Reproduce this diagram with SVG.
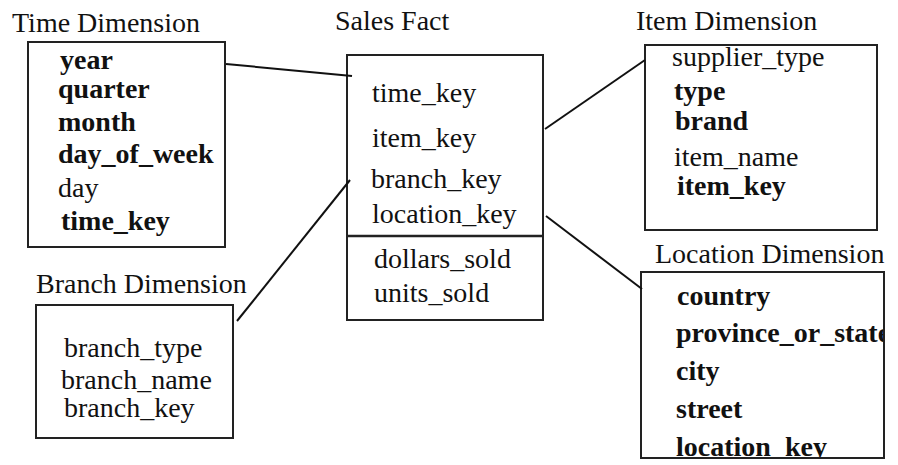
<svg xmlns="http://www.w3.org/2000/svg" width="898" height="465" viewBox="0 0 898 465">
<defs>
<clipPath id="locclip"><rect x="641" y="272" width="243" height="186"/></clipPath>
</defs>
<rect width="898" height="465" fill="#fff"/>
<g id="time">
<text font-family="Liberation Serif" font-size="28" fill="#111" x="12" y="32">Time Dimension</text>
<rect fill="none" stroke="#222" stroke-width="2" x="28" y="42" width="197" height="205"/>
<text font-family="Liberation Serif" font-size="28" fill="#111" font-weight="bold" x="60" y="69">year</text>
<text font-family="Liberation Serif" font-size="28" fill="#111" font-weight="bold" x="58" y="98">quarter</text>
<text font-family="Liberation Serif" font-size="28" fill="#111" font-weight="bold" x="58" y="131">month</text>
<text font-family="Liberation Serif" font-size="28" fill="#111" font-weight="bold" x="58" y="163">day_of_week</text>
<text font-family="Liberation Serif" font-size="28" fill="#111" x="58" y="197">day</text>
<text font-family="Liberation Serif" font-size="28" fill="#111" font-weight="bold" x="61" y="230">time_key</text>
</g>
<g id="sales">
<text font-family="Liberation Serif" font-size="28" fill="#111" x="335" y="30">Sales Fact</text>
<rect fill="none" stroke="#222" stroke-width="2" x="347" y="55" width="196" height="265"/>
<line x1="347" y1="236" x2="543" y2="236" stroke="#222" stroke-width="2.5"/>
<text font-family="Liberation Serif" font-size="28" fill="#111" x="372" y="102">time_key</text>
<text font-family="Liberation Serif" font-size="28" fill="#111" x="372" y="147">item_key</text>
<text font-family="Liberation Serif" font-size="28" fill="#111" x="371" y="188">branch_key</text>
<text font-family="Liberation Serif" font-size="28" fill="#111" x="372" y="223">location_key</text>
<text font-family="Liberation Serif" font-size="28" fill="#111" x="374" y="268">dollars_sold</text>
<text font-family="Liberation Serif" font-size="28" fill="#111" x="374" y="302">units_sold</text>
</g>
<g id="item">
<text font-family="Liberation Serif" font-size="28" fill="#111" x="636" y="30">Item Dimension</text>
<rect fill="none" stroke="#222" stroke-width="2" x="645" y="45" width="232" height="185"/>
<text font-family="Liberation Serif" font-size="28" fill="#111" x="672" y="66">supplier_type</text>
<text font-family="Liberation Serif" font-size="28" fill="#111" font-weight="bold" x="674" y="100">type</text>
<text font-family="Liberation Serif" font-size="28" fill="#111" font-weight="bold" x="675" y="130">brand</text>
<text font-family="Liberation Serif" font-size="28" fill="#111" x="674" y="166">item_name</text>
<text font-family="Liberation Serif" font-size="28" fill="#111" font-weight="bold" x="677" y="195">item_key</text>
</g>
<g id="location">
<text font-family="Liberation Serif" font-size="28" fill="#111" x="655" y="263">Location Dimension</text>
<g clip-path="url(#locclip)">
<text font-family="Liberation Serif" font-size="28" fill="#111" font-weight="bold" x="677" y="305">country</text>
<text font-family="Liberation Serif" font-size="28" fill="#111" font-weight="bold" x="676" y="342">province_or_state</text>
<text font-family="Liberation Serif" font-size="28" fill="#111" font-weight="bold" x="676" y="380">city</text>
<text font-family="Liberation Serif" font-size="28" fill="#111" font-weight="bold" x="676" y="418">street</text>
<text font-family="Liberation Serif" font-size="28" fill="#111" font-weight="bold" x="676" y="456">location_key</text>
</g>
<rect fill="none" stroke="#222" stroke-width="2" x="641" y="272" width="243" height="186"/>
</g>
<g id="branch">
<text font-family="Liberation Serif" font-size="28" fill="#111" x="36" y="293">Branch Dimension</text>
<rect fill="none" stroke="#222" stroke-width="2" x="36" y="305" width="197" height="133"/>
<text font-family="Liberation Serif" font-size="28" fill="#111" x="64" y="357">branch_type</text>
<text font-family="Liberation Serif" font-size="28" fill="#111" x="61" y="389">branch_name</text>
<text font-family="Liberation Serif" font-size="28" fill="#111" x="64" y="417">branch_key</text>
</g>
<g id="connectors" stroke="#111" stroke-width="2">
<line x1="226" y1="64" x2="352" y2="76"/>
<line x1="237" y1="321" x2="350" y2="180"/>
<line x1="545" y1="129" x2="645" y2="60"/>
<line x1="546" y1="216" x2="642" y2="289"/>
</g>
</svg>
